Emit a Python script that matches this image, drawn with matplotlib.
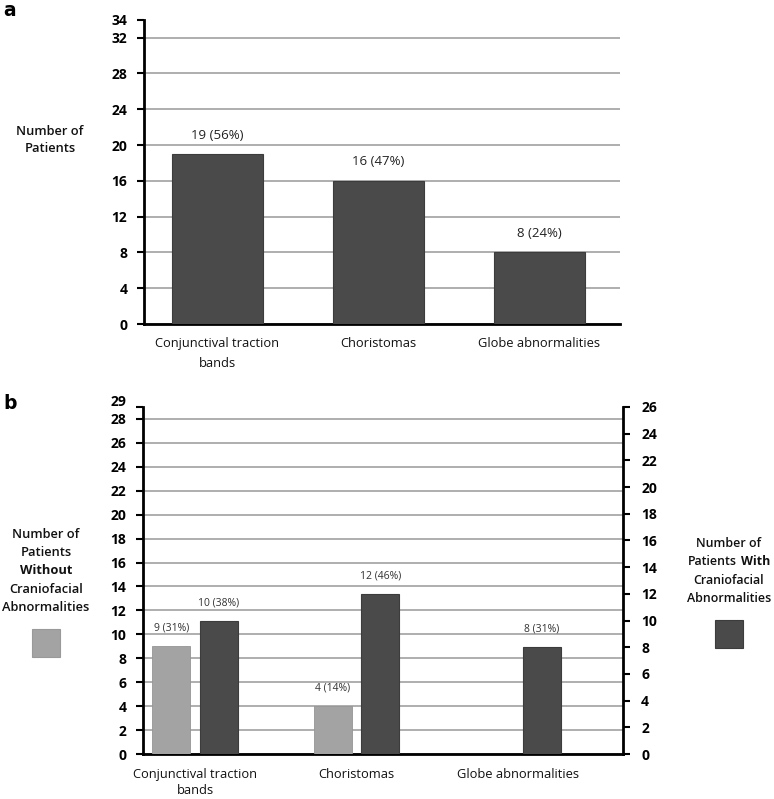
import numpy as np
import matplotlib
matplotlib.use("Agg")
import matplotlib.pyplot as plt
from matplotlib.offsetbox import TextArea, HPacker, VPacker, AnchoredOffsetbox
from matplotlib.patches import Rectangle

plt.rcParams['font.family'] = ['Open Sans', 'DejaVu Sans']

# ---- data ----
categories = ["Conjunctival traction\nbands", "Choristomas", "Globe abnormalities"]
a_counts = [19, 16, 8]
a_labels = ["19 (56%)", "16 (47%)", "8 (24%)"]
b_without = [9, 4, 0]
b_without_labels = ["9 (31%)", "4 (14%)", ""]
b_with = [10, 12, 8]
b_with_labels = ["10 (38%)", "12 (46%)", "8 (31%)"]
a_yticks = [0, 4, 8, 12, 16, 20, 24, 28, 32]
a_ytop = 34
b_left_yticks = list(range(0, 29, 2))
b_left_top = 29
b_right_yticks = list(range(0, 27, 2))

DARK = '#4a4a4a'
LIGHT = '#a3a3a3'
GRID = '#a8a8a8'

W, H = 774, 799
fig = plt.figure(figsize=(W / 100, H / 100), dpi=100)

def fx(px):
    return px / W

def fy(py):
    return 1 - py / H

tick_fs = 10
cat_fs = 9.3

# ---------------- panel a ----------------
axa = fig.add_axes([fx(144), fy(324), fx(620) - fx(144), fy(19.8) - fy(324)])
x = np.arange(len(categories))
bars = axa.bar(x, a_counts, width=0.565, color=DARK, edgecolor='#3c3c3c', linewidth=0.8, zorder=3)
for b, lab in zip(bars, a_labels):
    axa.annotate(lab, (b.get_x() + b.get_width() / 2, b.get_height()), xytext=(0, 9),
                 textcoords='offset points', ha='center', va='bottom', fontsize=9.5, color='#222222')
axa.set_xlim(-0.457, 2.503)
axa.set_ylim(0, a_ytop)
axa.set_yticks(a_yticks)
axa.set_yticks([a_ytop], minor=True)
axa.set_yticklabels([str(v) for v in a_yticks], fontsize=tick_fs, fontweight='bold')
axa.set_yticklabels([str(a_ytop)], minor=True, fontsize=tick_fs, fontweight='bold')
axa.yaxis.grid(True, which='major', color=GRID, linewidth=1.3, zorder=0)
axa.set_axisbelow(True)
axa.tick_params(axis='y', which='both', direction='out', length=5, width=1.5, pad=7, colors='black')
axa.tick_params(axis='x', length=0, pad=9)
axa.set_xticks(x)
axa.set_xticklabels(categories, fontsize=cat_fs, color='#111111', linespacing=1.7)
for s in ['top', 'right']:
    axa.spines[s].set_visible(False)
for s in ['left', 'bottom']:
    axa.spines[s].set_linewidth(2)
    axa.spines[s].set_color('black')
fig.text(fx(50), fy(140), "Number of\nPatients", ha='center', va='center', fontsize=9.3,
         fontweight='semibold', linespacing=1.35, color='#111111')
fig.text(fx(3), fy(1), "a", ha='left', va='top', fontsize=13.5, fontweight='bold', family='DejaVu Sans')

# ---------------- panel b ----------------
axb = fig.add_axes([fx(143), fy(754), fx(623) - fx(143), fy(407) - fy(754)])
axr = axb.twinx()
bw = 0.235
off = 0.147
lb = axb.bar(x - off, b_without, width=bw, color=LIGHT, edgecolor='#959595', linewidth=0.6, zorder=3)
db = axr.bar(x + off, b_with, width=bw, color=DARK, edgecolor='#3c3c3c', linewidth=0.8, zorder=3)
for b, lab in zip(lb, b_without_labels):
    if lab:
        axb.annotate(lab, (b.get_x() + b.get_width() / 2, b.get_height()), xytext=(0, 9),
                     textcoords='offset points', ha='center', va='bottom', fontsize=7.5, color='#333333')
for b, lab in zip(db, b_with_labels):
    axr.annotate(lab, (b.get_x() + b.get_width() / 2, b.get_height()), xytext=(0, 9),
                 textcoords='offset points', ha='center', va='bottom', fontsize=7.5, color='#333333')
axb.set_xlim(-0.322, 2.65)
axb.set_ylim(0, b_left_top)
axb.set_yticks(b_left_yticks)
axb.set_yticks([b_left_top], minor=True)
axb.set_yticklabels([str(v) for v in b_left_yticks], fontsize=tick_fs, fontweight='bold')
axb.set_yticklabels([""], minor=True)
# "29" label drawn slightly raised so it does not collide with "28"
axb.annotate(str(b_left_top), xy=(0, b_left_top), xycoords=('axes fraction', 'data'),
             xytext=(-12, 3.5), textcoords='offset points', ha='right', va='center',
             fontsize=tick_fs, fontweight='bold', annotation_clip=False)
axb.yaxis.grid(True, which='major', color=GRID, linewidth=1.3, zorder=0)
axb.set_axisbelow(True)
axb.tick_params(axis='y', which='both', direction='out', length=5, width=1.5, pad=7)
axb.tick_params(axis='x', length=0, pad=10)
axb.set_xticks(x)
axb.set_xticklabels(categories, fontsize=cat_fs, color='#111111', linespacing=1.3)
axr.set_ylim(0, b_right_yticks[-1])
axr.set_yticks(b_right_yticks)
axr.set_yticklabels([str(v) for v in b_right_yticks], fontsize=tick_fs, fontweight='bold')
axr.tick_params(axis='y', direction='out', length=5, width=1.5, pad=8)
for s in ['top', 'right']:
    axb.spines[s].set_visible(False)
for s in ['top', 'left', 'bottom']:
    axr.spines[s].set_visible(False)
for s in ['left', 'bottom']:
    axb.spines[s].set_linewidth(2)
axr.spines['right'].set_linewidth(2)

fig.text(fx(3), fy(403), "b", ha='left', va='center', fontsize=13.5, fontweight='bold', family='DejaVu Sans')

def label_block(lines, cx, cy, fs):
    rows = []
    for parts in lines:
        items = [TextArea(t, textprops=dict(fontsize=fs, fontweight=w, color='#111111')) for t, w in parts]
        rows.append(HPacker(children=items, align='baseline', pad=0, sep=2.5) if len(items) > 1 else items[0])
    box = VPacker(children=rows, align='center', pad=0, sep=3.8)
    ab = AnchoredOffsetbox(loc='center', child=box, bbox_to_anchor=(fx(cx), fy(cy)),
                           bbox_transform=fig.transFigure, frameon=False, pad=0, borderpad=0)
    fig.add_artist(ab)

label_block([[("Number of", 'semibold')], [("Patients", 'semibold')], [("Without", 'bold')],
             [("Craniofacial", 'semibold')], [("Abnormalities", 'semibold')]], 46, 571, 9.3)
label_block([[("Number of", 'semibold')], [("Patients", 'semibold'), ("With", 'bold')],
             [("Craniofacial", 'semibold')], [("Abnormalities", 'semibold')]], 729, 571, 8.9)

fig.add_artist(Rectangle((fx(32), fy(657)), fx(60) - fx(32), fy(629) - fy(657),
                         transform=fig.transFigure, facecolor=LIGHT, edgecolor='#999999', linewidth=0.8))
fig.add_artist(Rectangle((fx(715), fy(648)), fx(743) - fx(715), fy(620) - fy(648),
                         transform=fig.transFigure, facecolor=DARK, edgecolor='#3c3c3c', linewidth=0.8))

fig.savefig("out.png", dpi=100, facecolor='white')
